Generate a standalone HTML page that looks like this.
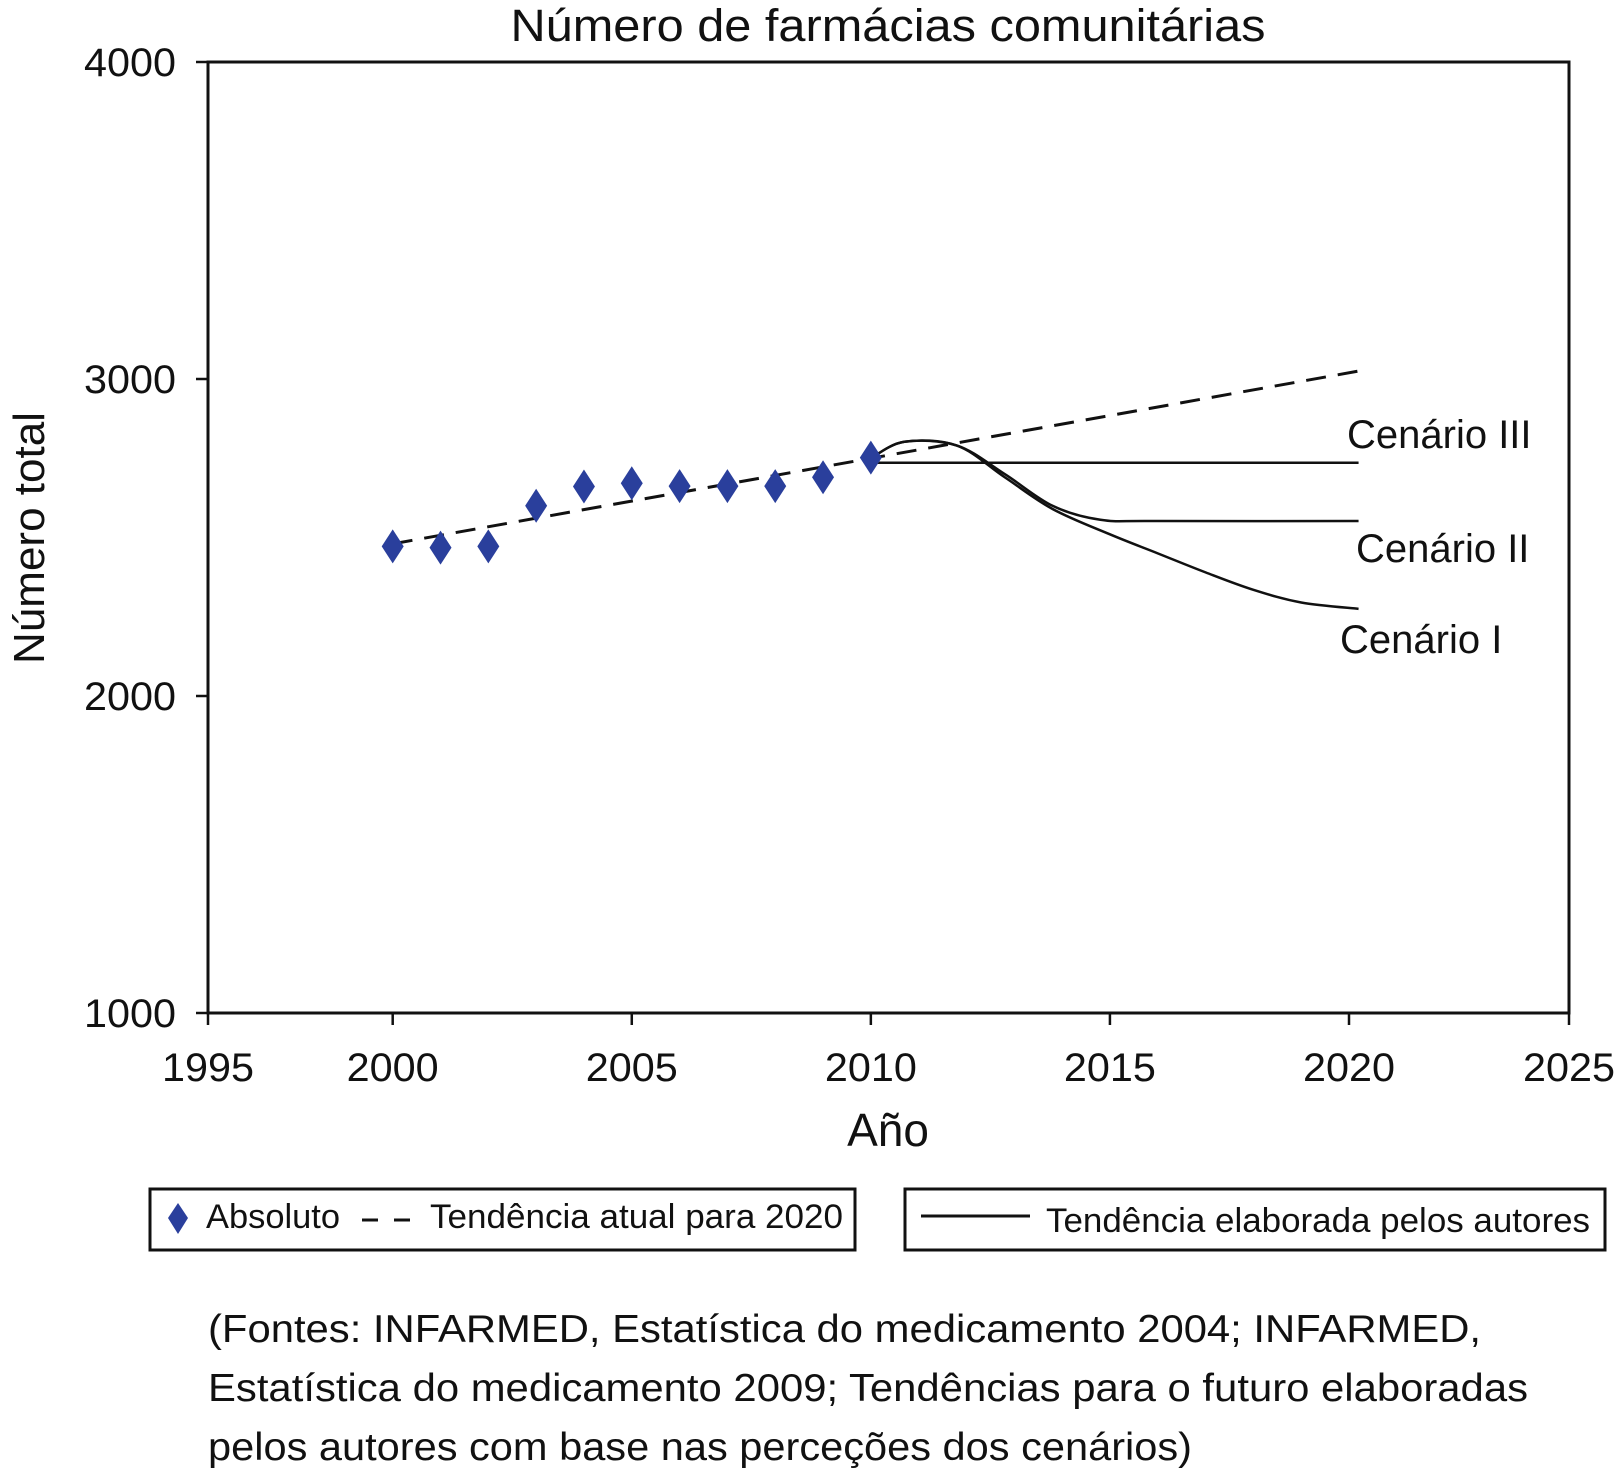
<!DOCTYPE html>
<html><head><meta charset="utf-8"><style>
html,body{margin:0;padding:0;background:#fff;}
svg{display:block;font-family:"Liberation Sans",sans-serif;}
</style></head><body>
<svg id="chart" width="1616" height="1482" viewBox="0 0 1616 1482">
<text x="888" y="41" font-size="45" text-anchor="middle" textLength="755" lengthAdjust="spacingAndGlyphs" fill="#111">Número de farmácias comunitárias</text>
<g id="axes"></g>
<g id="marks"></g>
<text x="888" y="1146" font-size="46" text-anchor="middle" fill="#111">Año</text>
<text transform="translate(44,538) rotate(-90)" font-size="44" text-anchor="middle" fill="#111">Número total</text>
<text x="1347" y="448" font-size="40" fill="#111">Cenário III</text>
<text x="1356" y="562" font-size="40" fill="#111">Cenário II</text>
<text x="1340" y="653" font-size="40" fill="#111">Cenário I</text>
<g>
<rect x="150" y="1189" width="705" height="61" fill="none" stroke="#111" stroke-width="3"/>
<path d="M178 1203 L188 1218 L178 1234 L168 1218 Z" fill="#2a3f9c"/>
<text x="206" y="1228" font-size="34" textLength="134" lengthAdjust="spacingAndGlyphs" fill="#111">Absoluto</text>
<line x1="362" y1="1220" x2="416" y2="1220" stroke="#111" stroke-width="3" stroke-dasharray="16,16"/>
<text x="430" y="1228" font-size="34" textLength="413" lengthAdjust="spacingAndGlyphs" fill="#111">Tendência atual para 2020</text>
</g>
<g>
<rect x="905" y="1189" width="700" height="61" fill="none" stroke="#111" stroke-width="3"/>
<line x1="921" y1="1216" x2="1030" y2="1216" stroke="#111" stroke-width="3"/>
<text x="1046" y="1232" font-size="34" textLength="544" lengthAdjust="spacingAndGlyphs" fill="#111">Tendência elaborada pelos autores</text>
</g>
<g font-size="39" fill="#111">
<text x="208" y="1342" textLength="1273" lengthAdjust="spacingAndGlyphs">(Fontes: INFARMED, Estatística do medicamento 2004; INFARMED,</text>
<text x="208" y="1401" textLength="1320" lengthAdjust="spacingAndGlyphs">Estatística do medicamento 2009; Tendências para o futuro elaboradas</text>
<text x="208" y="1460" textLength="984" lengthAdjust="spacingAndGlyphs">pelos autores com base nas perceções dos cenários)</text>
</g>
</svg>
<script>
const years = [2000,2001,2002,2003,2004,2005,2006,2007,2008,2009,2010];
const absoluto = [2472,2468,2472,2600,2661,2671,2662,2662,2662,2690,2752];
const trendYears = [2000,2020.2];
const trendValues = [2480,3025];
const cen3Years = [2010,2020.2];
const cen3Values = [2736,2736];
const cen2Years = [2010,2010.7,2011.8,2012.8,2013.8,2014.8,2016,2020.2];
const cen2Values = [2750,2802,2790,2700,2600,2556,2552,2552];
const cen1Years = [2010,2010.7,2011.8,2012.8,2013.8,2015,2016,2017,2018,2019,2020.2];
const cen1Values = [2750,2802,2790,2690,2590,2510,2450,2390,2335,2295,2275];
const xTicks = [1995,2000,2005,2010,2015,2020,2025];
const yTicks = [1000,2000,3000,4000];

const L=208,R=1569,T=62,B=1013;
const X0=392.7,X1=1349;
const xs=v=>X0+(v-2000)/20*(X1-X0);
const xt=v=>Math.min(R,Math.max(L,xs(v)));
const ys=v=>B-(v-1000)/3000*(B-T);
const NS="http://www.w3.org/2000/svg";
function mk(tag,attrs,parent){const e=document.createElementNS(NS,tag);for(const k in attrs)e.setAttribute(k,attrs[k]);parent.appendChild(e);return e;}
const axes=document.getElementById('axes'), marks=document.getElementById('marks');
let f=mk('rect',{x:L,y:T,width:R-L,height:B-T,fill:'none',stroke:'#111','stroke-width':3},axes);


xTicks.forEach(t=>{
  const x=xt(t);
  const l=mk('line',{x1:x,y1:B,x2:x,y2:B+12,stroke:'#111','stroke-width':2.5},axes);
  
  
  const tx=mk('text',{x:x,y:1081,'font-size':40,'text-anchor':'middle',fill:'#111',textLength:92,lengthAdjust:'spacingAndGlyphs'},axes);
  tx.textContent=t;
  
  
});
yTicks.forEach(t=>{
  const y=ys(t);
  const l=mk('line',{x1:L-12,y1:y,x2:L,y2:y,stroke:'#111','stroke-width':2.5},axes);
  
  
  const tx=mk('text',{x:176,y:y+14,'font-size':40,'text-anchor':'end',fill:'#111',textLength:92,lengthAdjust:'spacingAndGlyphs'},axes);
  tx.textContent=t;
  
  
});
function smooth(X,Y){
  const p=X.map((x,i)=>[xs(x),ys(Y[i])]);
  let d='M'+p[0][0]+' '+p[0][1];
  for(let i=0;i<p.length-1;i++){
    const p0=p[i-1]||p[i],p1=p[i],p2=p[i+1],p3=p[i+2]||p2;
    const c1=[p1[0]+(p2[0]-p0[0])/6,p1[1]+(p2[1]-p0[1])/6];
    const c2=[p2[0]-(p3[0]-p1[0])/6,p2[1]-(p3[1]-p1[1])/6];
    d+=` C${c1[0]} ${c1[1]} ${c2[0]} ${c2[1]} ${p2[0]} ${p2[1]}`;
  }
  return d;
}
let tr=mk('line',{x1:xs(trendYears[0]),y1:ys(trendValues[0]),x2:xs(trendYears[1]),y2:ys(trendValues[1]),stroke:'#111','stroke-width':3,'stroke-dasharray':'20,12'},marks);


let c3=mk('path',{d:smooth(cen3Years,cen3Values),fill:'none',stroke:'#111','stroke-width':2.5},marks);


let c2=mk('path',{d:smooth(cen2Years,cen2Values),fill:'none',stroke:'#111','stroke-width':2.5},marks);


let c1=mk('path',{d:smooth(cen1Years,cen1Values),fill:'none',stroke:'#111','stroke-width':2.5},marks);


years.forEach((yr,i)=>{
  const x=xs(yr),y=ys(absoluto[i]);
  const d=mk('path',{d:`M${x} ${y-17} L${x+11} ${y} L${x} ${y+17} L${x-11} ${y} Z`,fill:'#2a3f9c'},marks);
  
  
});
</script>
</body></html>
